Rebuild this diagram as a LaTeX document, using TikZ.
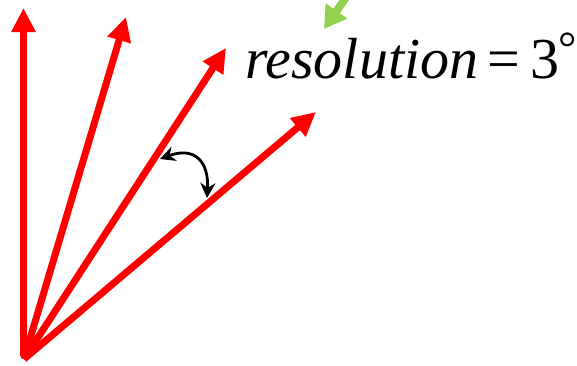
\documentclass[tikz,border=0pt]{standalone}
\usepackage{fontspec}
\setmainfont{Liberation Serif}
\usetikzlibrary{arrows.meta}
\definecolor{vred}{RGB}{255,0,0}
\definecolor{lgreen}{RGB}{146,208,80}
\tikzset{
  ray/.style={draw=vred, line width=7pt, -{Triangle[length=24pt,width=23pt]}},
  greenarrow/.style={draw=lgreen, line width=8pt, -{Triangle[length=22pt,width=25pt]}},
  anglearrow/.style={draw=black, line width=2.8pt, {Stealth[length=15pt,width=15pt]}-{Stealth[length=15pt,width=15pt]}},
}
\begin{document}
\begin{tikzpicture}[x=1pt,y=-1pt]
\useasboundingbox (0,0) rectangle (577,365);
\clip (0,0) rectangle (577,365);
\coordinate (o1) at (23.5,356);
\coordinate (o) at (24,359);
\coordinate (t1) at (23.5,8);
\coordinate (t2) at (126,17);
\coordinate (t3) at (226,48);
\coordinate (t4) at (316,112);
\draw[ray] (o1) -- (t1);
\draw[ray] (o) -- (t2);
\draw[ray] (o) -- (t3);
\draw[ray] (o) -- (t4);
\coordinate (g0) at (354,-14);
\coordinate (g1) at (324,29);
\draw[greenarrow] (g0) -- (g1);
\coordinate (a1) at (160,159);
\coordinate (a2) at (207,198);
\draw[anglearrow] (a1) .. controls (195,146) and (209,162) .. (a2);
\node[anchor=base west, inner sep=0pt, font=\fontsize{58}{60}\selectfont] (lbl) at (245,78) {\itshape resolution\upshape\,=\,3\kern-1pt\raisebox{15pt}{\fontsize{46}{46}\selectfont °}};
\end{tikzpicture}
\end{document}
